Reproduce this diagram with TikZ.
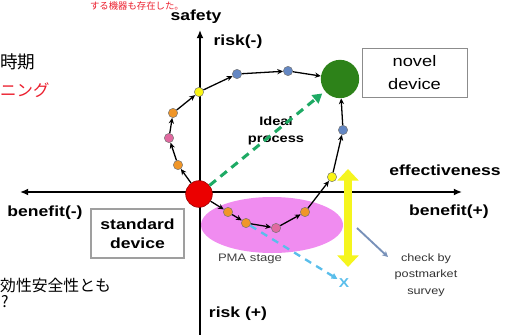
\documentclass[tikz,border=0pt]{standalone}
\usepackage{fontspec}
\setmainfont{Liberation Sans}[FakeStretch=1.2]
\newfontfamily\jpfont{Noto Sans CJK JP}
\usepackage{xcolor}
\usetikzlibrary{arrows.meta, positioning, shapes.geometric}

\definecolor{jpred}{RGB}{235,30,45}
\definecolor{dotorange}{RGB}{240,150,40}
\definecolor{dotpink}{RGB}{225,105,160}
\definecolor{dotyellow}{RGB}{250,245,20}
\definecolor{dotblue}{RGB}{100,135,195}
\definecolor{startred}{RGB}{235,0,0}
\definecolor{novelgreen}{RGB}{45,130,25}
\definecolor{pmapink}{RGB}{240,140,240}
\definecolor{idealgreen}{RGB}{30,170,100}
\definecolor{checkcyan}{RGB}{90,190,235}
\definecolor{surveyblue}{RGB}{120,145,185}
\definecolor{effyellow}{RGB}{245,245,30}

\tikzset{
    axis/.style={line width=2pt},
    axislabel/.style={font=\fontsize{12.5}{14}\selectfont\bfseries},
    dot/.style={circle, draw=black!55, line width=0.4pt, inner sep=0pt, minimum size=0.28cm},
    traj/.style={line width=1.1pt, -{Stealth[length=5pt,width=4.5pt]}},
    devicebox/.style={draw=gray!75, line width=1pt, align=center, inner sep=0pt, minimum height=1.47cm},
    jptext/.style={font=\jpfont\fontsize{15}{18}\selectfont, anchor=west, inner sep=0pt},
}

\begin{document}
\begin{tikzpicture}[x=0.03cm, y=-0.03cm]
    \useasboundingbox (0,0) rectangle (510,334);

    % Slide text at the frame
    \node[jptext, text=jpred, font=\jpfont\fontsize{8}{9}\selectfont, anchor=north east] (jtop) at (184,1) {する機器も存在した。};
    \node[jptext] (jtime) at (0,62) {時期};
    \node[jptext, text=jpred, font=\jpfont\fontsize{14}{18}\selectfont] (jscr) at (0,90) {ニング};
    \node[jptext, font=\jpfont\fontsize{13.5}{16}\selectfont] (jboth) at (0,285) {効性安全性とも};
    \node[jptext, font=\jpfont\fontsize{13.5}{16}\selectfont] (jq) at (1,302) {?};

    % PMA region
    \node[ellipse, fill=pmapink, minimum width=4.26cm, minimum height=1.68cm] (pma) at (272,225) {};
    \node[font=\fontsize{9.3}{11}\selectfont, text=black!75] (pmalabel) at (250,259) {PMA stage};

    % Axes
    \coordinate (ytop) at (200,30);
    \coordinate (ybot) at (200,340);
    \coordinate (xleft) at (20,192);
    \coordinate (xright) at (462,192);
    \draw[axis, -{Latex[length=7pt,width=6pt]}] (ybot) -- (ytop);
    \draw[axis, {Latex[length=7pt,width=6pt]}-{Latex[length=7pt,width=6pt]}] (xleft) -- (xright);

    % Axis labels
    \node[axislabel] (safety) at (196,17) {safety};
    \node[axislabel] (riskm) at (238,42) {risk(-)};
    \node[axislabel] (riskp) at (238,314) {risk (+)};
    \node[axislabel] (benm) at (45,213) {benefit(-)};
    \node[axislabel] (benp) at (449,212) {benefit(+)};
    \node[axislabel] (eff) at (445,170) {effectiveness};

    % Devices
    \node[devicebox, minimum width=2.79cm, font=\fontsize{12.5}{16}\selectfont\bfseries] (std) at (137.5,233.5) {standard\\device};
    \node[devicebox, draw=gray!90, line width=0.8pt, minimum width=3.15cm, font=\fontsize{13}{19}\selectfont] (nov) at (414.5,72.5) {novel\\device};

    % Ideal process
    \node[align=center, font=\fontsize{10.4}{15}\selectfont\bfseries] (ideal) at (276,131) {Ideal\\process};

    % Start and goal
    \node[circle, fill=startred, draw=red!60!black, line width=0.5pt, minimum size=0.8cm, inner sep=0pt] (r) at (199,194) {};
    \node[circle, fill=novelgreen, minimum size=1.15cm, inner sep=0pt] (g) at (340,79) {};

    \draw[idealgreen, line width=2.6pt, dash pattern=on 7pt off 5pt, -{Triangle[length=8pt,width=9pt]}, shorten >=3pt] (r) -- (g);

    % Upper path
    \node[dot, fill=dotorange] (u1) at (178,165) {};
    \node[dot, fill=dotpink] (u2) at (169,138) {};
    \node[dot, fill=dotorange] (u3) at (173,113) {};
    \node[dot, fill=dotyellow] (u4) at (199,92) {};
    \node[dot, fill=dotblue] (u5) at (237,74) {};
    \node[dot, fill=dotblue] (u6) at (288,71) {};

    % Lower path
    \node[dot, fill=dotorange] (l1) at (228,212) {};
    \node[dot, fill=dotorange] (l2) at (246,223) {};
    \node[dot, fill=dotpink] (l3) at (276,228) {};
    \node[dot, fill=dotorange] (l4) at (305,212) {};
    \node[dot, fill=dotyellow] (l5) at (332,177) {};
    \node[dot, fill=dotblue] (l6) at (343,130) {};

    \foreach \a/\b in {r/u1, u1/u2, u2/u3, u3/u4, u4/u5, u5/u6, u6/g,
                       r/l1, l1/l2, l2/l3, l3/l4, l4/l5, l5/l6, l6/g}
        \draw[traj] (\a) -- (\b);

    % Failed route
    \node[text=checkcyan, font=\fontsize{11}{12}\selectfont\bfseries, inner sep=1pt] (xm) at (344,283) {X};
    \draw[checkcyan, line width=2pt, dash pattern=on 6pt off 5pt, -{Triangle[length=5pt,width=5pt]}] (l2) -- (xm);

    % Effectiveness range
    \coordinate (ea) at (348,169);
    \coordinate (eb) at (348,267);
    \draw[effyellow, line width=7pt, {Triangle[length=10pt,width=18pt]}-{Triangle[length=10pt,width=18pt]}] (eb) -- (ea);

    % Postmarket survey
    \node[align=center, font=\fontsize{9}{14}\selectfont, text=black!80] (check) at (426,275) {check by\\postmarket\\survey};
    \coordinate (sva) at (357,228);
    \coordinate (svb) at (388,257);
    \draw[surveyblue, line width=1.6pt, -{Stealth[length=5pt,width=5pt]}] (sva) -- (svb);
\end{tikzpicture}
\end{document}
